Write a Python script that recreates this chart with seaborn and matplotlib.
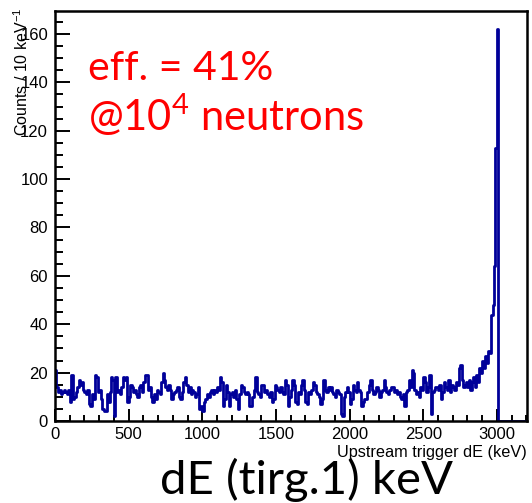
import numpy as np
import pandas as pd
import matplotlib
matplotlib.use("Agg")
import matplotlib.pyplot as plt
import seaborn as sns
from matplotlib.ticker import MultipleLocator

# Counts per 10 keV bin, starting at 0 keV
counts = [
    21, 14, 12, 13, 11, 12, 13, 12, 11, 13,    # 0-100
    8, 19, 9, 10, 12, 14, 17, 15, 16, 13,      # 100-200
    12, 11, 13, 7, 6, 11, 9, 19, 18, 12,       # 200-300
    13, 9, 5, 4, 4, 11, 8, 12, 18, 17,         # 300-400
    2, 18, 12, 13, 11, 14, 18, 17, 18, 8,      # 400-500
    10, 15, 14, 12, 13, 11, 10, 14, 15, 12,    # 500-600
    16, 19, 19, 13, 14, 10, 8, 11, 9, 13,      # 600-700
    12, 11, 16, 20, 17, 14, 13, 15, 13, 9,     # 700-800
    11, 12, 13, 14, 10, 9, 12, 16, 18, 15,     # 800-900
    12, 14, 11, 13, 12, 10, 11, 14, 5, 6,      # 900-1000
    4, 8, 9, 11, 10, 12, 13, 11, 13, 12,       # 1000-1100
    14, 13, 18, 16, 6, 9, 15, 12, 6, 11,       # 1100-1200
    12, 10, 13, 9, 5, 11, 15, 14, 12, 11,      # 1200-1300
    12, 11, 6, 6, 10, 13, 18, 12, 11, 10,      # 1300-1400
    15, 15, 12, 13, 11, 10, 12, 8, 9, 15,      # 1400-1500
    14, 13, 12, 14, 12, 11, 17, 15, 6, 10,     # 1500-1600
    13, 17, 15, 8, 7, 12, 11, 15, 17, 13,      # 1600-1700
    8, 7, 12, 11, 13, 16, 15, 12, 11, 10,      # 1700-1800
    7, 9, 17, 13, 12, 14, 13, 14, 12, 11,      # 1800-1900
    10, 13, 12, 11, 3, 2, 10, 12, 14, 12,      # 1900-2000
    7, 9, 15, 13, 12, 16, 13, 12, 6, 8,        # 2000-2100
    9, 9, 12, 15, 17, 13, 11, 12, 14, 13,      # 2100-2200
    10, 12, 13, 17, 14, 12, 11, 13, 14, 14,    # 2200-2300
    12, 13, 11, 12, 10, 9, 11, 6, 12, 13,      # 2300-2400
    17, 14, 21, 20, 13, 11, 12, 10, 14, 13,    # 2400-2500
    18, 16, 12, 14, 19, 3, 12, 13, 14, 14,     # 2500-2600
    13, 15, 9, 12, 16, 14, 13, 17, 12, 15,     # 2600-2700
    14, 13, 16, 15, 22, 23, 17, 14, 15, 16,    # 2700-2800
    14, 17, 13, 16, 18, 14, 19, 16, 22, 20,    # 2800-2900
    25, 22, 27, 24, 29, 28, 44, 48, 64, 113,   # 2900-3000
    162,                                       # 3000-3010
    0, 0, 0, 0, 0, 0, 0, 0, 0, 0,              # 3010-3110
    0, 0, 0, 0, 0, 0, 0, 0, 0,                 # 3110-3200
]
bin_width = 10
x_major = [0, 500, 1000, 1500, 2000, 2500, 3000]
y_major = [0, 20, 40, 60, 80, 100, 120, 140, 160]

x_label = "Upstream trigger dE (keV)"
y_label = "Counts / 10 keV$^{-1}$"
note_1 = "eff. = 41%"
note_2 = "@10$^{4}$ neutrons"
bottom_title = "dE (tirg.1) keV"

sns.set_theme(style="white")
plt.rcParams["font.family"] = ["Liberation Sans", "DejaVu Sans"]
plt.rcParams["mathtext.default"] = "regular"

W, H = 532, 503
fig = plt.figure(figsize=(W / 100, H / 100), dpi=100)
ax = fig.add_axes([55 / W, 82 / H, 472 / W, 410 / H])

n_bins = len(counts)
centers = np.arange(n_bins) * bin_width + bin_width / 2
df = pd.DataFrame({"dE": centers, "counts": counts})
sns.histplot(data=df, x="dE", weights="counts", binwidth=bin_width,
             binrange=(0, n_bins * bin_width), element="step",
             fill=False, color="#000099", linewidth=2.0, ax=ax)

ax.set_xlim(0, 3204)
ax.set_ylim(0, 169.5)
ax.set_xlabel("")
ax.set_ylabel("")
ax.set_xticks(x_major)
ax.set_yticks(y_major)
ax.xaxis.set_minor_locator(MultipleLocator(100))
ax.yaxis.set_minor_locator(MultipleLocator(5))
ax.tick_params(which="both", direction="in", top=False, right=False,
               bottom=True, left=True, color="black", labelcolor="black",
               width=1.4, labelsize=12, pad=5)
ax.tick_params(axis="x", pad=4)
ax.tick_params(axis="y", which="major", length=10.5)
ax.tick_params(axis="y", which="minor", length=5.6)
ax.tick_params(axis="x", which="major", length=8.5)
ax.tick_params(axis="x", which="minor", length=4.3)
for sp in ax.spines.values():
    sp.set_color("black")
    sp.set_linewidth(1.8)

fig.text(527 / W, 1 - 452 / H, x_label, ha="right", va="center",
         fontsize=11.7, color="black")
fig.text(22 / W, 1 - 8 / H, y_label, rotation=90, ha="center", va="top",
         fontsize=11.5, color="black")

fig.text(88 / W, 1 - 80 / H, note_1, ha="left", va="baseline",
         fontsize=29.5, color="#ff0000", family=["Lato", "DejaVu Sans"])
fig.text(88 / W, 1 - 131 / H, note_2, ha="left", va="baseline",
         fontsize=30, color="#ff0000", family=["Lato", "DejaVu Sans"])
fig.text(307 / W, 1 - 494 / H, bottom_title, ha="center", va="baseline",
         fontsize=34, color="black", family=["Lato", "DejaVu Sans"])

fig.savefig("out.png", dpi=100)
